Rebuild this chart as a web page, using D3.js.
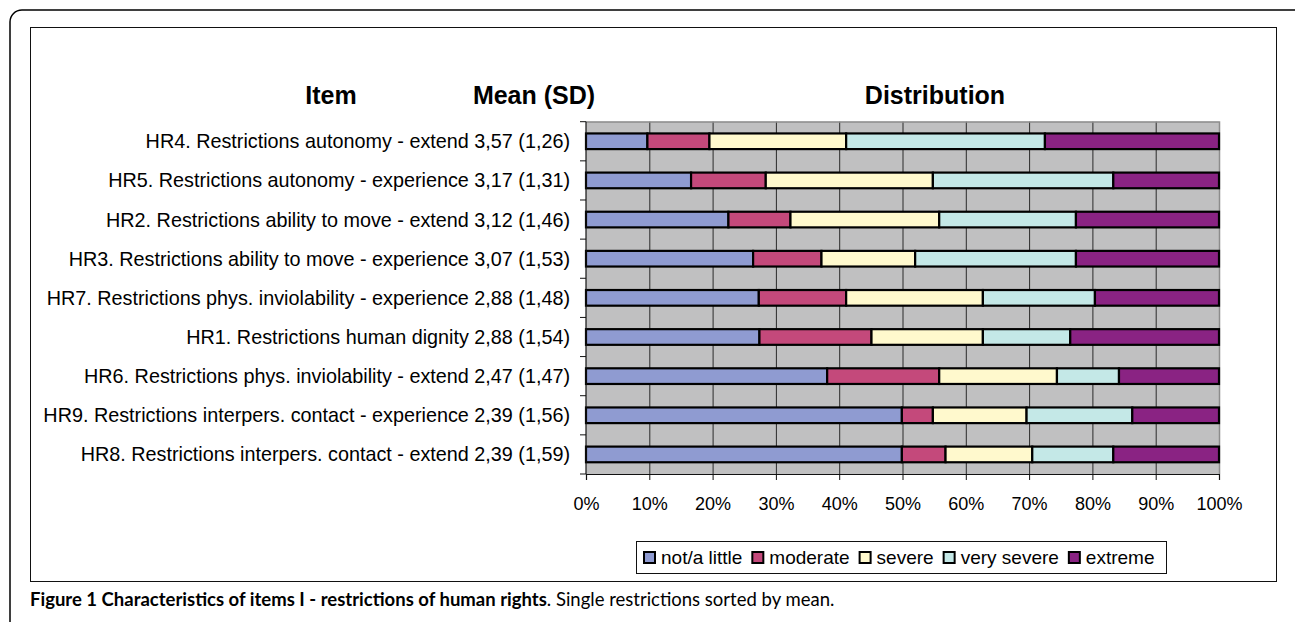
<!DOCTYPE html>
<html>
<head>
<meta charset="utf-8">
<script src="https://cdn.jsdelivr.net/npm/d3@7"></script>
<style>
  body { margin: 0; background: #fff; }
  text { font-family: "Liberation Sans", Arial, sans-serif; fill: #000; }
</style>
</head>
<body>
<div id="chart"></div>
<script>
// item labels (top to bottom) and their mean (SD) strings
var items = [
    "HR4. Restrictions autonomy - extend",
    "HR5. Restrictions autonomy - experience",
    "HR2. Restrictions ability to move - extend",
    "HR3. Restrictions ability to move - experience",
    "HR7. Restrictions phys. inviolability - experience",
    "HR1. Restrictions human dignity",
    "HR6. Restrictions phys. inviolability - extend",
    "HR9. Restrictions interpers. contact - experience",
    "HR8. Restrictions interpers. contact - extend"
];
var meanSD = ["3,57 (1,26)", "3,17 (1,31)", "3,12 (1,46)", "3,07 (1,53)", "2,88 (1,48)",
              "2,88 (1,54)", "2,47 (1,47)", "2,39 (1,56)", "2,39 (1,59)"];

// percentage of answers per category, same order as items
var notLittle  = [9.7, 16.6, 22.5, 26.4, 27.3, 27.4, 38.1, 49.9, 49.9];
var moderate   = [9.8, 11.8, 9.8, 10.8, 13.8, 17.7, 17.7, 4.9, 6.9];
var severe     = [21.6, 26.4, 23.5, 14.8, 21.6, 17.6, 18.6, 14.8, 13.7];
var verySevere = [31.4, 28.5, 21.6, 25.4, 17.7, 13.8, 9.8, 16.7, 12.8];
var extreme    = [27.5, 16.7, 22.6, 22.6, 19.6, 23.5, 15.8, 13.7, 16.7];

var categories = ["not/a little", "moderate", "severe", "very severe", "extreme"];
var colors = ["#8f9bd1", "#c4497b", "#fff9cd", "#c4e8e7", "#8a2383"];
var xTicks = [0, 10, 20, 30, 40, 50, 60, 70, 80, 90, 100];

var width = 1295, height = 622;
var svg = d3.select("#chart").append("svg").attr("width", width).attr("height", height);
svg.append("rect").attr("width", width).attr("height", height).attr("fill", "#fff");

// outer rounded page frame (runs off the right and bottom)
svg.append("path")
    .attr("d", "M10,622 V22 A12,12 0 0 1 22,10 H1295")
    .attr("fill", "none").attr("stroke", "#000").attr("stroke-width", 1.5);

// chart border
svg.append("rect").attr("x", 30.5).attr("y", 27.5).attr("width", 1246).attr("height", 554)
    .attr("fill", "#fff").attr("stroke", "#111").attr("stroke-width", 1);

// building the table for the stack
var table = items.map(function(d, i) {
    return { item: d, "not/a little": notLittle[i], "moderate": moderate[i], "severe": severe[i],
             "very severe": verySevere[i], "extreme": extreme[i] };
});
var stacked = d3.stack().keys(categories)(table);

// scales
var x = d3.scaleLinear().domain([0, 100]).range([586, 1219]);
var y = d3.scaleBand().domain(items).range([121.7, 474]).paddingInner(0.6).paddingOuter(0.3);
var rows = d3.scaleBand().domain(items).range([121.7, 474]);
var color = d3.scaleOrdinal().domain(categories).range(colors);

// plot background
svg.append("rect").attr("x", x(0)).attr("y", 121.7).attr("width", x(100) - x(0)).attr("height", 474 - 121.7)
    .attr("fill", "#c0c0c1");

// vertical gridlines
svg.selectAll(".grid").data(xTicks.slice(1, -1)).enter().append("line")
    .attr("x1", function(d) { return x(d) + 0.5; }).attr("x2", function(d) { return x(d) + 0.5; })
    .attr("y1", 121.7).attr("y2", 474)
    .attr("stroke", "#2a2a2a").attr("stroke-width", 1);

// plot area border top and right (gray)
svg.append("path")
    .attr("d", "M" + x(0) + ",122 H" + (x(100) + 0.5) + " V474")
    .attr("fill", "none").attr("stroke", "#8c8c8c").attr("stroke-width", 1.5);

// stacked bars
svg.selectAll(".series").data(stacked).enter().append("g")
    .attr("fill", function(d) { return color(d.key); })
    .selectAll("rect").data(function(d) { return d; }).enter().append("rect")
    .attr("x", function(d) { return x(d[0]); })
    .attr("y", function(d) { return y(d.data.item); })
    .attr("width", function(d) { return x(d[1]) - x(d[0]); })
    .attr("height", y.bandwidth())
    .attr("stroke", "#000").attr("stroke-width", 2.2);

// x axis
var xAxis = svg.append("g").attr("transform", "translate(0,474)")
    .call(d3.axisBottom(x).tickValues(xTicks).tickSize(6).tickPadding(17).tickFormat(function(d) { return d + "%"; }));
xAxis.select(".domain").attr("stroke", "#111").attr("stroke-width", 1.2);
xAxis.selectAll(".tick line").attr("stroke", "#111");
xAxis.selectAll("text").style("font-size", "18px").attr("font-family", null);

// y axis with ticks at row boundaries
var yAxisG = svg.append("g");
yAxisG.append("line").attr("x1", x(0)).attr("x2", x(0)).attr("y1", 121.7).attr("y2", 474)
    .attr("stroke", "#111").attr("stroke-width", 1.2);
yAxisG.selectAll(".ytick").data(items.concat(["end"])).enter().append("line")
    .attr("x1", x(0) - 6).attr("x2", x(0))
    .attr("y1", function(d, i) { return 121.7 + i * rows.step(); })
    .attr("y2", function(d, i) { return 121.7 + i * rows.step(); })
    .attr("stroke", "#111").attr("stroke-width", 1);

// item labels
svg.selectAll(".label").data(items).enter().append("text")
    .attr("x", 570)
    .attr("y", function(d) { return rows(d) + rows.bandwidth() / 2 + 7; })
    .attr("text-anchor", "end")
    .style("font-size", "19.8px")
    .text(function(d, i) { return d + " " + meanSD[i]; });

// column headers
var headers = [{t: "Item", x: 331}, {t: "Mean (SD)", x: 534}, {t: "Distribution", x: 935}];
svg.selectAll(".header").data(headers).enter().append("text")
    .attr("x", function(d) { return d.x; }).attr("y", 104)
    .attr("text-anchor", "middle")
    .style("font-size", "25px").style("font-weight", "bold")
    .text(function(d) { return d.t; });

// legend
var legend = svg.append("g");
legend.append("rect").attr("x", 636.5).attr("y", 541.5).attr("width", 530).attr("height", 32)
    .attr("fill", "#fff").attr("stroke", "#111").attr("stroke-width", 1);
var lx = 644;
categories.forEach(function(c) {
    legend.append("rect").attr("x", lx).attr("y", 552).attr("width", 11).attr("height", 11)
        .attr("fill", color(c)).attr("stroke", "#000").attr("stroke-width", 2);
    var t = legend.append("text").attr("x", lx + 17).attr("y", 564)
        .style("font-size", "19px").text(c);
    lx += 17 + t.node().getComputedTextLength() + 10;
});

// figure caption
var caption = svg.append("text").attr("x", 30).attr("y", 606)
    .style("font-family", "Lato, 'Open Sans', sans-serif").style("font-size", "18.5px");
caption.append("tspan").style("font-weight", "bold").text("Figure 1 Characteristics of items I - restrictions of human rights");
caption.append("tspan").text(". Single restrictions sorted by mean.");
</script>
</body>
</html>
